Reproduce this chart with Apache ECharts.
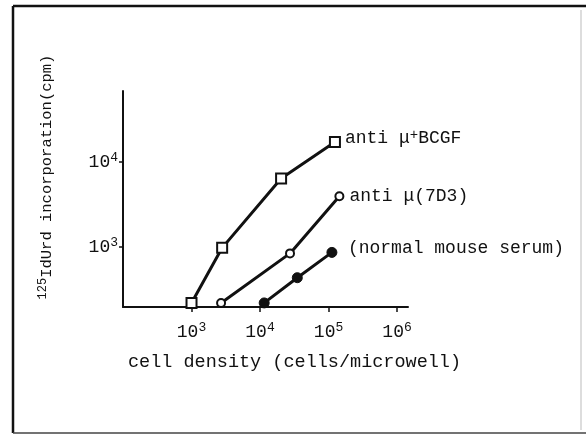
<!DOCTYPE html>
<html lang="en">

<head>
  <meta charset="UTF-8">
  <title>Cell density vs IdUrd incorporation</title>
  <style>
    html, body { margin: 0; padding: 0; background: #fff; }
    #myEcharts {
      width: 586px;
      height: 435px;
    }
  </style>
  <script src="https://cdn.jsdelivr.net/npm/echarts@6/dist/echarts.min.js"></script>
</head>

<body>
  <div id="myEcharts"></div>
  <script>
    // data (cells/microwell, cpm)
    var bcgfX = [1000, 2800, 20300, 124000];
    var bcgfY = [220, 980, 6430, 17300];
    var d7X = [2700, 27400, 144000];
    var d7Y = [220, 843, 3980];
    var nmsX = [11500, 35000, 112000];
    var nmsY = [220, 436, 866];

    var xTicks = [1000, 10000, 100000, 1000000];
    var yTicks = [1000, 10000];

    var mono = '"Liberation Mono", "DejaVu Sans Mono", monospace';
    var ink = '#111';

    function pairs(xs, ys) {
      return xs.map(function (x, i) { return [x, ys[i]]; });
    }

    function powLabel(v) {
      return '{b|10}{s|' + Math.round(Math.log10(v)) + '}';
    }
    var powRich = {
      b: { fontFamily: mono, fontSize: 18, color: ink },
      s: { fontFamily: mono, fontSize: 13, color: ink, padding: [0, 0, 10, 0] }
    };

    var myChart = echarts.init(document.getElementById('myEcharts'));
    var option = {
      backgroundColor: '#fff',
      animation: false,
      grid: { left: 123, top: 91, width: 285, height: 216 },
      xAxis: {
        type: 'log',
        min: 100,
        max: 1445000,
        axisLine: { lineStyle: { color: ink, width: 2 } },
        axisTick: { show: true, customValues: xTicks, length: 5, lineStyle: { color: ink, width: 1.5 } },
        axisLabel: { customValues: xTicks, formatter: powLabel, rich: powRich, margin: 14 },
        splitLine: { show: false },
        minorTick: { show: false }
      },
      yAxis: {
        type: 'log',
        min: 197,
        max: 69000,
        axisLine: { lineStyle: { color: ink, width: 2 } },
        axisTick: { show: true, customValues: yTicks, length: 4, lineStyle: { color: ink, width: 1.5 } },
        axisLabel: { customValues: yTicks, formatter: powLabel, rich: powRich, margin: 5 },
        splitLine: { show: false }
      },
      series: [
        {
          name: 'anti mu + BCGF',
          type: 'line',
          data: pairs(bcgfX, bcgfY),
          symbol: 'rect',
          symbolSize: 10,
          lineStyle: { color: ink, width: 3 },
          itemStyle: { color: '#fff', borderColor: ink, borderWidth: 2 },
          endLabel: {
            show: true,
            formatter: '{t|anti μ}{s|+}{t|BCGF}',
            offset: [2, -4],
            rich: {
              t: { fontFamily: mono, fontSize: 18, color: ink },
              s: { fontFamily: mono, fontSize: 14, color: ink, padding: [0, 0, 5, 0] }
            }
          }
        },
        {
          name: 'anti mu (7D3)',
          type: 'line',
          data: pairs(d7X, d7Y),
          symbol: 'circle',
          symbolSize: 8,
          lineStyle: { color: ink, width: 3 },
          itemStyle: { color: '#fff', borderColor: ink, borderWidth: 2 },
          endLabel: {
            show: true,
            formatter: 'anti μ(7D3)',
            offset: [2, 0],
            fontFamily: mono,
            fontSize: 18,
            color: ink
          }
        },
        {
          name: 'normal mouse serum',
          type: 'line',
          data: pairs(nmsX, nmsY),
          symbol: 'circle',
          symbolSize: 10,
          lineStyle: { color: ink, width: 3 },
          itemStyle: { color: ink, borderColor: ink, borderWidth: 1 },
          endLabel: {
            show: true,
            formatter: '(normal mouse serum)',
            offset: [8, -4],
            fontFamily: mono,
            fontSize: 18,
            color: ink
          }
        }
      ],
      graphic: [
        // scanned page frame
        { type: 'line', shape: { x1: 13, y1: 6, x2: 586, y2: 6 }, style: { stroke: ink, lineWidth: 2.5 } },
        { type: 'line', shape: { x1: 13, y1: 6, x2: 13, y2: 433 }, style: { stroke: ink, lineWidth: 2.5 } },
        { type: 'line', shape: { x1: 13, y1: 433, x2: 586, y2: 433 }, style: { stroke: '#444', lineWidth: 1.5 } },
        { type: 'line', shape: { x1: 581, y1: 10, x2: 581, y2: 430 }, style: { stroke: '#bbb', lineWidth: 1 } },
        {
          type: 'text',
          left: 128,
          top: 353,
          style: { text: 'cell density (cells/microwell)', font: '18.5px ' + mono, fill: ink }
        },
        {
          type: 'text',
          x: 47,
          y: 177,
          rotation: Math.PI / 2,
          style: {
            text: '{s|125}{t|IdUrd incorporation(cpm)}',
            align: 'center',
            verticalAlign: 'middle',
            rich: {
              t: { fontFamily: mono, fontSize: 15.5, fill: ink },
              s: { fontFamily: mono, fontSize: 12, fill: ink, padding: [0, 0, 9, 0] }
            }
          }
        }
      ]
    };
    myChart.setOption(option);
  </script>
</body>

</html>
